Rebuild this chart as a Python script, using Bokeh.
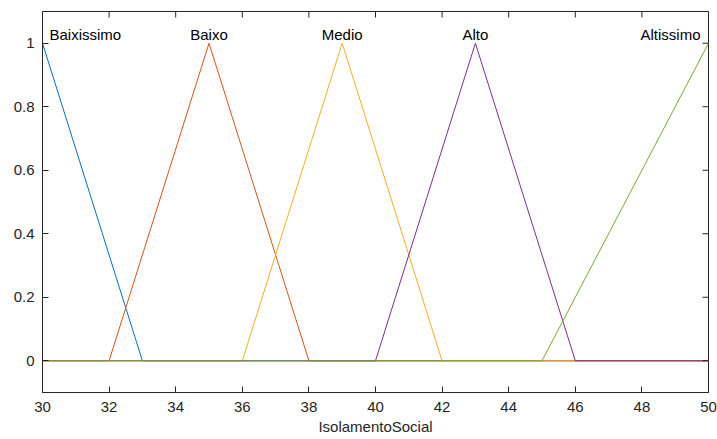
import math
from bokeh.plotting import figure
from bokeh.models import FixedTicker, Range1d, ColumnDataSource
from bokeh.core.properties import value
from bokeh.embed import file_html
from bokeh.resources import INLINE

# Membership functions of "IsolamentoSocial" (vertices of each curve)
names = ["Baixissimo", "Baixo", "Medio", "Alto", "Altissimo"]
mf_x = [
    [30, 33, 50],
    [30, 32, 35, 38, 50],
    [30, 36, 39, 42, 50],
    [30, 40, 43, 46, 50],
    [30, 45, 50],
]
mf_y = [
    [1, 0, 0],
    [0, 0, 1, 0, 0],
    [0, 0, 1, 0, 0],
    [0, 0, 1, 0, 0],
    [0, 0, 1],
]
peaks = [30, 35, 39, 43, 50]
colors = ["#0072BD", "#D95319", "#EDB120", "#7E2F8E", "#77AC30"]

x_ticks = [30, 32, 34, 36, 38, 40, 42, 44, 46, 48, 50]
y_ticks = [0, 0.2, 0.4, 0.6, 0.8, 1]
y_tick_labels = ["0", "0.2", "0.4", "0.6", "0.8", "1"]
x_label = "IsolamentoSocial"
x_min, x_max = 30, 50
y_min, y_max = -0.1, 1.1

FONT = "Liberation Sans"
AX = "#262626"

p = figure(width=717, height=439, output_backend="svg", toolbar_location=None,
           x_range=Range1d(x_min, x_max), y_range=Range1d(y_min, y_max),
           min_border_left=42, min_border_right=9, min_border_top=11,
           min_border_bottom=47)
p.background_fill_color = "white"
p.border_fill_color = "white"
p.outline_line_color = AX
p.outline_line_width = 1
p.grid.visible = False

for xs, ys, c in zip(mf_x, mf_y, colors):
    p.line(xs, ys, line_color=c, line_width=1)

aligns = ["left", "center", "center", "center", "right"]
offsets = [7, 0, 0, 0, -8]
for name, px, al, off in zip(names, peaks, aligns, offsets):
    src = ColumnDataSource(dict(x=[px], y=[1.027], t=[name]))
    p.text(x="x", y="y", text="t", source=src, text_align=al,
           text_baseline="alphabetic", x_offset=off,
           text_font=value(FONT), text_font_size="15px", text_color="black")

# mirrored inward ticks on the top and right edges of the box
p.segment(x0=x_ticks, y0=[y_max] * len(x_ticks), x1=x_ticks,
          y1=[y_max - 0.019] * len(x_ticks), line_color=AX, line_width=1)
p.segment(x0=[x_max] * len(y_ticks), y0=y_ticks, x1=[x_max - 0.18] * len(y_ticks),
          y1=y_ticks, line_color=AX, line_width=1)

def style(ax):
    ax.axis_line_color = AX
    ax.major_tick_line_color = AX
    ax.major_tick_in = 6
    ax.major_tick_out = 0
    ax.minor_tick_line_color = None
    ax.major_label_text_font = FONT
    ax.major_label_text_color = AX
    ax.major_label_text_font_size = "15px"

xa = p.xaxis[0]
xa.ticker = FixedTicker(ticks=x_ticks)
style(xa)
xa.major_label_standoff = 9
xa.axis_label = x_label
xa.axis_label_text_font = FONT
xa.axis_label_text_font_size = "15px"
xa.axis_label_text_font_style = "normal"
xa.axis_label_text_color = AX
xa.axis_label_standoff = 3

ya = p.yaxis[0]
ya.ticker = FixedTicker(ticks=y_ticks)
ya.major_label_overrides = {t: l for t, l in zip(y_ticks, y_tick_labels)}
style(ya)
ya.major_label_standoff = 8

open("out.html", "w").write(file_html(p, INLINE))
